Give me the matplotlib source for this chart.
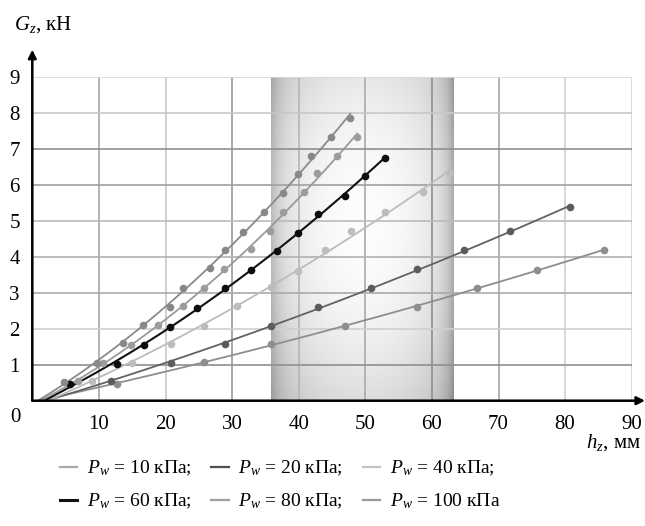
import numpy as np
import matplotlib
matplotlib.use('Agg')
import matplotlib.pyplot as plt
from matplotlib.lines import Line2D

plt.rcParams['font.family'] = ['Liberation Serif', 'DejaVu Serif']
plt.rcParams['mathtext.fontset'] = 'custom'
plt.rcParams['mathtext.rm'] = 'Liberation Serif'
plt.rcParams['mathtext.it'] = 'Liberation Serif:italic'

# ---- data ----
pressures = ["10", "20", "40", "60", "80", "100"]
h_10 = [12.75, 25.75, 35.9, 46.9, 57.8, 66.8, 75.8, 85.8]
g_10 = [0.47, 1.07, 1.57, 2.08, 2.61, 3.12, 3.63, 4.19]
h_20 = [11.8, 20.8, 28.9, 35.9, 42.9, 50.9, 57.8, 64.8, 71.8, 80.8]
g_20 = [0.54, 1.04, 1.57, 2.08, 2.59, 3.12, 3.65, 4.19, 4.72, 5.37]
h_40 = [8.9, 14.9, 20.9, 25.8, 30.8, 35.85, 39.9, 43.9, 47.9, 52.9, 58.65, 62.75]
g_40 = [0.55, 1.06, 1.57, 2.07, 2.62, 3.15, 3.61, 4.19, 4.72, 5.23, 5.80, 6.33]
h_60 = [5.65, 12.75, 16.8, 20.75, 24.8, 28.9, 32.9, 36.75, 39.9, 42.9, 46.9, 49.9, 52.9]
g_60 = [0.46, 1.01, 1.55, 2.06, 2.58, 3.12, 3.63, 4.16, 4.67, 5.18, 5.69, 6.24, 6.75]
h_80 = [6.8, 10.65, 14.8, 18.9, 22.65, 25.75, 28.8, 32.8, 35.65, 37.65, 40.75, 42.8, 45.8, 48.8]
g_80 = [0.55, 1.06, 1.55, 2.10, 2.63, 3.12, 3.65, 4.20, 4.72, 5.23, 5.79, 6.32, 6.80, 7.33]
h_100 = [4.8, 9.65, 13.55, 16.65, 20.75, 22.65, 26.75, 28.9, 31.65, 34.8, 37.65, 39.95, 41.8, 44.8, 47.75]
g_100 = [0.53, 1.06, 1.59, 2.10, 2.61, 3.12, 3.68, 4.19, 4.69, 5.23, 5.76, 6.29, 6.80, 7.33, 7.86]
# where each trend line leaves the h axis
h_start = [0.8, 1.2, 1.5, 1.8, 1.2, 0.8]
# shaded working zone
zone_h = [35.8, 63.2]

x_ticks = [10, 20, 30, 40, 50, 60, 70, 80, 90]
y_ticks = [1, 2, 3, 4, 5, 6, 7, 8, 9]

series_h = [h_10, h_20, h_40, h_60, h_80, h_100]
series_g = [g_10, g_20, g_40, g_60, g_80, g_100]
line_cols = ['#8e8e8e', '#626262', '#bcbcbc', '#111111', '#9a9a9a', '#8a8a8a']
mark_cols = ['#8e8e8e', '#5c5c5c', '#bdbdbd', '#0d0d0d', '#9c9c9c', '#888888']
leg_cols = ['#a8a8a8', '#505050', '#c4c4c4', '#111111', '#a0a0a0', '#9a9a9a']
line_w = [1.3, 1.3, 1.3, 1.5, 1.3, 1.3]

W, H = 645, 526
fig = plt.figure(figsize=(W / 100, H / 100), dpi=100)
ax = fig.add_axes([32.3 / W, 1 - 400.7 / H, (631.7 - 32.3) / W, (400.7 - 76.7) / H])
ax.set_xlim(0, 90)
ax.set_ylim(0, 9)

# shaded zone gradient
nx, ny = 300, 200
u = np.linspace(0, 1, nx)
v = np.linspace(0, 1, ny)
U, V = np.meshgrid(u, v)
r2 = ((U - 0.5) / 0.55) ** 2 + ((V - 0.55) / 0.6) ** 2
val = 0.99 - 0.15 * r2
val -= 0.14 * np.exp(-U / 0.05)
val -= 0.20 * np.exp(-(1 - U) / 0.045)
val = np.clip(val, 0.55, 1)
ax.imshow(val, extent=[zone_h[0], zone_h[1], 0, 9], origin='lower', cmap='gray',
          vmin=0, vmax=1, aspect='auto', zorder=0, interpolation='bilinear')

# grid
gx_cols = ['#a8a8a8', '#c8c8c8', '#9a9a9a', '#b5b5b5', '#aaaaaa', '#8f8f8f', '#a5a5a5', '#cfcfcf', '#d5d5d5']
gy_cols = ['#8f8f8f', '#cfcfcf', '#aaaaaa', '#b0b0b0', '#bbbbbb', '#a0a0a0', '#8f8f8f', '#c8c8c8', '#d8d8d8']
for xv, c in zip(x_ticks, gx_cols):
    ax.plot([xv, xv], [0, 9], color=c, lw=1.2, zorder=1)
for yv, c in zip(y_ticks, gy_cols):
    ax.plot([0, 90], [yv, yv], color=c, lw=1.2, zorder=1)

# data
handles = []
for i in range(6):
    hx = np.array(series_h[i])
    gy = np.array(series_g[i])
    fx = np.concatenate([[h_start[i]], hx])
    fy = np.concatenate([[0.0], gy])
    coef = np.polyfit(fx, fy, 2)
    xx = np.linspace(h_start[i], hx[-1], 100)
    ax.plot(xx, np.polyval(coef, xx), color=line_cols[i], lw=line_w[i], zorder=3)
    ax.plot(hx, gy, 'o', ms=5.5, color=mark_cols[i], mec='none', zorder=4)
    handles.append(Line2D([], [], color=leg_cols[i], lw=2.2 if i == 3 else 1.6))

for s in ax.spines.values():
    s.set_visible(False)
ax.set_xticks(x_ticks)
ax.set_yticks(y_ticks)
ax.tick_params(length=0, labelsize=15, pad=9)
ax.tick_params(axis='x', pad=10)

# axes with arrows
ax.annotate('', xy=(92.0, 0), xytext=(0, 0), xycoords='data',
            arrowprops=dict(arrowstyle='-|>', color='black', lw=1.8, mutation_scale=12,
                            shrinkA=0, shrinkB=0), annotation_clip=False, zorder=5)
ax.annotate('', xy=(0, 9.75), xytext=(0, 0), xycoords='data',
            arrowprops=dict(arrowstyle='-|>', color='black', lw=1.8, mutation_scale=12,
                            shrinkA=0, shrinkB=0), annotation_clip=False, zorder=5)

fig.text(15 / W, 1 - 418 / H, '0', fontsize=15, ha='center', va='center')
fig.text(14 / W, 1 - 25 / H, r'$G_z$, кН', fontsize=15, ha='left', va='center')
fig.text(641 / W, 1 - 443 / H, r'$h_z$, мм', fontsize=15, ha='right', va='center')

labels = [r'$P_w$ = %s кПа;' % p for p in pressures]
labels[-1] = labels[-1].rstrip(';')
order = [0, 3, 1, 4, 2, 5]
leg = fig.legend([handles[k] for k in order], [labels[k] for k in order], ncol=3,
                 loc='center', bbox_to_anchor=(280 / W, 1 - 485 / H), frameon=False,
                 fontsize=14, handlelength=0.9, handletextpad=0.5, columnspacing=1.0,
                 labelspacing=0.7)

fig.savefig('out.png', dpi=100)
